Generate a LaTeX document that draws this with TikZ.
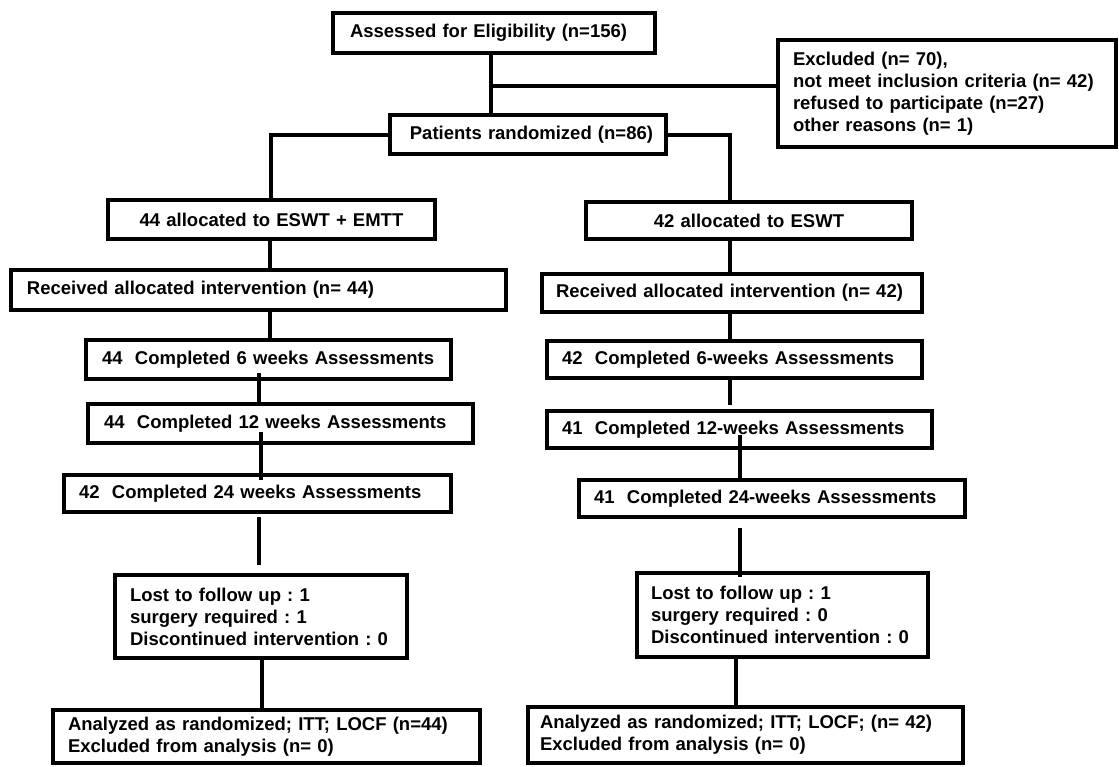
\documentclass[tikz,border=0pt]{standalone}
\usepackage{fontspec}
\setmainfont{Liberation Sans}
\usetikzlibrary{calc}
\newcommand\mybox[8]{%
  \pgfmathsetmacro\bw{#4-#2}\pgfmathsetmacro\bh{#5-#3}\pgfmathsetmacro\tw{#4-#2-2*#7}%
  \node[box, anchor=north west, minimum width=\bw pt, minimum height=\bh pt,
        text width=\tw pt, inner xsep=#7pt, align=#6] (#1) at (#2,#3) {#8};}
\begin{document}
\frenchspacing
\begin{tikzpicture}[x=1pt,y=-1pt,
  box/.style={draw, line width=3.6pt, fill=white, outer sep=0pt, inner ysep=0pt,
              font=\fontsize{18.5}{22}\selectfont\bfseries\frenchspacing},
  conn/.style={line width=3.4pt}]
\useasboundingbox (0,0) rectangle (1119,766);

% boxes
\mybox{assess}{333}{13}{655}{53}{left}{17}{Assessed for Eligibility (n=156)}
\mybox{excl}{778}{40}{1116}{147}{left}{15}{Excluded (n= 70),\\not meet inclusion criteria (n= 42)\\refused to participate (n=27)\\other reasons (n= 1)}
\mybox{patients}{390}{115}{666}{154}{right}{13}{Patients randomized (n=86)}

\mybox{allocL}{108}{200}{435}{239}{center}{10}{44 allocated to ESWT + EMTT}
\mybox{recvL}{11}{270}{506}{310}{left}{16}{Received allocated intervention (n= 44)}
\mybox{sixL}{86}{340}{451}{379}{left}{16}{44\ \ Completed 6 weeks Assessments}
\mybox{twL}{88}{404}{473}{443}{left}{16}{44\ \ Completed 12 weeks Assessments}
\mybox{tfL}{64}{475}{451}{512}{left}{15}{42\ \ Completed 24 weeks Assessments}
\mybox{lostL}{115}{575}{407}{658}{left}{15}{Lost to follow up : 1\\surgery required : 1\\Discontinued intervention : 0}
\mybox{anL}{53}{710}{480}{763}{left}{15}{Analyzed as randomized; ITT; LOCF (n=44)\\Excluded from analysis (n= 0)}

\mybox{allocR}{586}{202}{912}{239}{center}{10}{42 allocated to ESWT}
\mybox{recvR}{542}{274}{922}{312}{left}{14}{Received allocated intervention (n= 42)}
\mybox{sixR}{547}{341}{922}{378}{left}{15}{42\ \ Completed 6-weeks Assessments}
\mybox{twR}{547}{411}{932}{448}{left}{15}{41\ \ Completed 12-weeks Assessments}
\mybox{tfR}{579}{480}{965}{517}{left}{15}{41\ \ Completed 24-weeks Assessments}
\mybox{lostR}{637}{573}{928}{657}{left}{14}{Lost to follow up : 1\\surgery required : 0\\Discontinued intervention : 0}
\mybox{anR}{528}{707}{963}{763}{left}{12}{Analyzed as randomized; ITT; LOCF; (n= 42)\\Excluded from analysis (n= 0)}

% connectors top
\coordinate (trunk) at (491,86);
\draw[conn] (trunk |- assess.south) -- (trunk |- patients.north);
\draw[conn] (trunk) -- (trunk -| excl.west);
\coordinate (lb) at (271,135);
\draw[conn] (lb -| patients.west) -- (lb) -- (lb |- allocL.north);
\coordinate (rb) at (730,135);
\draw[conn] (rb -| patients.east) -- (rb) -- (rb |- allocR.north);

% left column
\coordinate (cA) at (270,0);
\coordinate (cB) at (259,0);
\coordinate (cC) at (261,0);
\coordinate (cD) at (262,0);
\draw[conn] (allocL.south -| cA) -- (recvL.north -| cA);
\draw[conn] (recvL.south -| cA) -- (sixL.north -| cA);
\draw[conn] ($(sixL.south -| cB)+(0,-6)$) -- (twL.north -| cB);
\draw[conn] ($(twL.south -| cC)+(0,-11)$) -- ($(tfL.north -| cC)+(0,5)$);
\draw[conn] ($(tfL.south -| cB)+(0,5)$) -- ($(lostL.north -| cB)+(0,-10)$);
\draw[conn] (lostL.south -| cD) -- (anL.north -| cD);

% right column
\coordinate (dA) at (730,0);
\coordinate (dB) at (740,0);
\coordinate (dC) at (736,0);
\draw[conn] (allocR.south -| dA) -- (recvR.north -| dA);
\draw[conn] (recvR.south -| dA) -- (sixR.north -| dA);
\draw[conn] (sixR.south -| dA) -- ($(twR.north -| dA)+(0,-6)$);
\draw[conn] ($(twR.south -| dB)+(0,-13)$) -- (tfR.north -| dB);
\draw[conn] ($(tfR.south -| dB)+(0,11)$) -- ($(lostR.north -| dB)+(0,4)$);
\draw[conn] (lostR.south -| dC) -- (anR.north -| dC);
\end{tikzpicture}
\end{document}
